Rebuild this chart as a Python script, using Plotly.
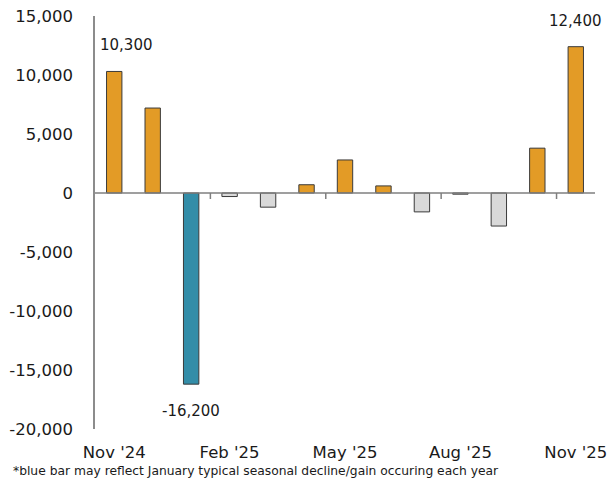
import plotly.graph_objects as go

# Monthly change, Nov 2024 - Nov 2025
months = ["Nov '24", "Dec '24", "Jan '25", "Feb '25", "Mar '25", "Apr '25", "May '25",
          "Jun '25", "Jul '25", "Aug '25", "Sep '25", "Oct '25", "Nov '25"]
values = [10300, 7200, -16200, -300, -1200, 700, 2800, 600, -1600, -100, -2800, 3800, 12400]
labelled = {0: "10,300", 2: "-16,200", 12: "12,400"}
tick_months = [0, 3, 6, 9, 12]
y_ticks = [15000, 10000, 5000, 0, -5000, -10000, -15000, -20000]

ORANGE = "#E39B26"
BLUE = "#338DA8"
GRAY = "#D9D9D9"
FONT = "DejaVu Sans"
TEXT = "#1a1a1a"

def bar_color(i, v):
    if i == 2:
        return BLUE
    return ORANGE if v >= 0 else GRAY

x = list(range(len(months)))
colors = [bar_color(i, v) for i, v in enumerate(values)]

fig = go.Figure()
fig.add_trace(go.Bar(
    x=x, y=values, width=0.4,
    marker=dict(color=colors, line=dict(color="#3a3a3a", width=1)),
    hoverinfo="skip",
))

y_min, y_max = -20000, 15000
tick_len = (y_max - y_min) / 413 * 6

# zero line with tick marks every quarter
shapes = [dict(type="line", xref="x", yref="y", x0=-0.5, x1=len(months) - 0.5, y0=0, y1=0,
               line=dict(color="#7f7f7f", width=1.5), layer="above")]
for t in [2.5, 5.5, 8.5, 11.5]:
    shapes.append(dict(type="line", xref="x", yref="y", x0=t, x1=t, y0=0, y1=-tick_len,
                       line=dict(color="#7f7f7f", width=1.5)))

annotations = []
for i, txt in labelled.items():
    v = values[i]
    annotations.append(dict(x=i, y=v, xref="x", yref="y", text=txt, showarrow=False,
                            xshift=12 if i == 0 else 0,
                            yshift=26 if v > 0 else -27,
                            font=dict(family=FONT, size=15, color=TEXT)))
annotations.append(dict(x=0, y=0, xref="paper", yref="paper", xanchor="left", yanchor="top",
                        xshift=-84, yshift=-33,
                        text="*blue bar may reflect January typical seasonal decline/gain occuring each year",
                        showarrow=False, font=dict(family=FONT, size=12.3, color=TEXT)))

fig.update_layout(
    width=615, height=484,
    margin=dict(l=95, r=20, t=16, b=55),
    paper_bgcolor="white", plot_bgcolor="white",
    showlegend=False,
    font=dict(family=FONT, size=16.5, color=TEXT),
    xaxis=dict(range=[-0.5, len(months) - 0.5], tickvals=tick_months,
               ticktext=[months[i] for i in tick_months],
               showgrid=False, zeroline=False, showline=False, ticks="",
               ticklabelstandoff=11, automargin=False,
               tickfont=dict(size=16.5)),
    yaxis=dict(range=[y_min, y_max], tickvals=y_ticks,
               ticktext=[f"{v:,}" for v in y_ticks],
               showgrid=False, zeroline=False, showline=True, linecolor="#8c8c8c",
               linewidth=1.5, ticks="", ticklabelstandoff=17, automargin=False,
               tickfont=dict(size=16.5)),
    shapes=shapes,
    annotations=annotations,
)

fig.write_html("out.html")
